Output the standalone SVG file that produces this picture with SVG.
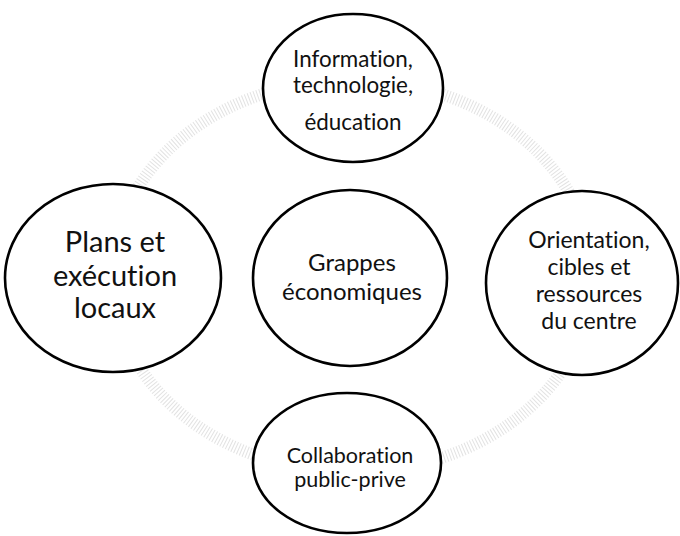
<svg xmlns="http://www.w3.org/2000/svg" width="680" height="536" viewBox="0 0 680 536">
<style>
.node ellipse{fill:#fff;stroke:#000;stroke-width:2.6}
.node text{font-family:Lato,"Open Sans","Liberation Sans",sans-serif;fill:#111;text-anchor:middle;font-variant-ligatures:none}
.ring{fill:none;stroke:#cfcfcf;stroke-opacity:0.6;stroke-width:12;stroke-dasharray:1 2}
</style>
<rect width="680" height="536" fill="#fff"/>
<g id="connectors">
<ellipse class="ring" cx="352" cy="276" rx="240" ry="196"/>
</g>
<g id="n-top" class="node">
<ellipse cx="353" cy="88" rx="90" ry="74"/>
<text font-size="22.4"><tspan x="353" y="67">Information,</tspan><tspan x="353" y="93">technologie,</tspan><tspan x="353" y="130">éducation</tspan></text>
</g>
<g id="n-left" class="node">
<ellipse cx="113" cy="278" rx="108" ry="94"/>
<text font-size="29"><tspan x="115" y="252">Plans et</tspan><tspan x="115" y="286">exécution</tspan><tspan x="115" y="318">locaux</tspan></text>
</g>
<g id="n-center" class="node">
<ellipse cx="350" cy="278" rx="97" ry="88"/>
<text font-size="24"><tspan x="352" y="271">Grappes</tspan><tspan x="352" y="300">économiques</tspan></text>
</g>
<g id="n-right" class="node">
<ellipse cx="582" cy="283" rx="96" ry="92"/>
<text font-size="23"><tspan x="589" y="248">Orientation,</tspan><tspan x="589" y="275">cibles et</tspan><tspan x="589" y="302">ressources</tspan><tspan x="589" y="329">du centre</tspan></text>
</g>
<g id="n-bottom" class="node">
<ellipse cx="347" cy="463" rx="94" ry="70"/>
<text font-size="21.5"><tspan x="350" y="463">Collaboration</tspan><tspan x="350" y="487">public-prive</tspan></text>
</g>
</svg>
